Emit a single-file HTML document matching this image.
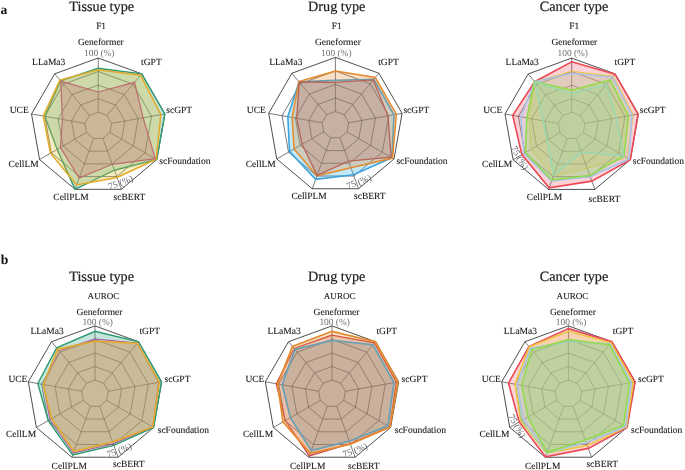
<!DOCTYPE html>
<html><head><meta charset="utf-8"><title>Radar charts</title>
<style>html,body{margin:0;padding:0;background:#fff}body{width:685px;height:470px;overflow:hidden}</style></head>
<body>
<svg width="685" height="470" viewBox="0 0 685 470" style="display:block;font-family:'Liberation Serif','Times New Roman',serif;text-rendering:geometricPrecision">
<rect width="685" height="470" fill="#fff"/>
<g>
<polygon points="98.20,112.16 106.90,115.33 111.53,123.35 109.93,132.47 102.83,138.42 93.57,138.42 86.47,132.47 84.87,123.35 89.50,115.33" fill="none" stroke="#222" stroke-width="0.60"/>
<polygon points="98.20,98.62 115.61,104.96 124.87,121.00 121.65,139.24 107.46,151.15 88.94,151.15 74.75,139.24 71.53,121.00 80.79,104.96" fill="none" stroke="#222" stroke-width="0.60"/>
<polygon points="98.20,85.08 124.31,94.58 138.20,118.65 133.38,146.01 112.09,163.87 84.31,163.87 63.02,146.01 58.20,118.65 72.09,94.58" fill="none" stroke="#222" stroke-width="0.60"/>
<polygon points="98.20,71.54 133.01,84.21 151.54,116.30 145.10,152.78 116.72,176.59 79.68,176.59 51.30,152.78 44.86,116.30 63.39,84.21" fill="none" stroke="#222" stroke-width="0.60"/>
<polygon points="98.20,58.00 141.72,73.84 164.87,113.94 156.83,159.55 121.35,189.32 75.05,189.32 39.57,159.55 31.53,113.94 54.68,73.84" fill="none" stroke="#222" stroke-width="0.80"/>
<line x1="98.20" y1="112.16" x2="98.20" y2="58.00" stroke="#222" stroke-width="0.6"/>
<line x1="106.90" y1="115.33" x2="141.72" y2="73.84" stroke="#222" stroke-width="0.6"/>
<line x1="111.53" y1="123.35" x2="164.87" y2="113.94" stroke="#222" stroke-width="0.6"/>
<line x1="109.93" y1="132.47" x2="156.83" y2="159.55" stroke="#222" stroke-width="0.6"/>
<line x1="102.83" y1="138.42" x2="121.35" y2="189.32" stroke="#222" stroke-width="0.6"/>
<line x1="93.57" y1="138.42" x2="75.05" y2="189.32" stroke="#222" stroke-width="0.6"/>
<line x1="86.47" y1="132.47" x2="39.57" y2="159.55" stroke="#222" stroke-width="0.6"/>
<line x1="84.87" y1="123.35" x2="31.53" y2="113.94" stroke="#222" stroke-width="0.6"/>
<line x1="89.50" y1="115.33" x2="54.68" y2="73.84" stroke="#222" stroke-width="0.6"/>
<polygon points="98.20,68.29 141.72,73.84 164.87,113.94 156.83,159.55 114.41,170.23 75.05,189.32 57.16,149.40 44.86,116.30 60.51,80.79" fill="#38a890" fill-opacity="0.30" stroke="none"/>
<polygon points="98.20,68.29 141.72,73.84 164.87,113.94 156.83,159.55 114.41,170.23 75.05,189.32 57.16,149.40 44.86,116.30 60.51,80.79" fill="none" stroke="#2f9a72" stroke-width="1.40" stroke-linejoin="miter"/>
<polygon points="98.20,69.85 140.54,75.24 160.87,114.65 156.24,159.21 117.07,177.55 76.62,184.99 50.48,153.25 43.20,116.00 59.91,80.06" fill="#e6bc30" fill-opacity="0.30" stroke="none"/>
<polygon points="98.20,69.85 140.54,75.24 160.87,114.65 156.24,159.21 117.07,177.55 76.62,184.99 50.48,153.25 43.20,116.00 59.91,80.06" fill="none" stroke="#e4aa28" stroke-width="1.50" stroke-linejoin="miter"/>
<polygon points="98.20,91.99 134.58,82.34 143.07,117.79 155.36,158.70 112.25,164.32 79.17,177.99 60.44,147.50 62.40,119.39 60.78,81.10" fill="#bf6b70" fill-opacity="0.30" stroke="none"/>
<polygon points="98.20,91.99 134.58,82.34 143.07,117.79 155.36,158.70 112.25,164.32 79.17,177.99 60.44,147.50 62.40,119.39 60.78,81.10" fill="none" stroke="#bf6b70" stroke-width="1.20" stroke-linejoin="miter"/>
<text x="101.7" y="10.7" font-size="14.25" text-anchor="middle" fill="#222" stroke="#222" stroke-width="0.2">Tissue type</text>
<text x="101.1" y="29.1" font-size="9.4" text-anchor="middle" fill="#222" stroke="#222" stroke-width="0.12">F1</text>
<text x="77.9" y="45.3" font-size="9.5" fill="#161616" stroke="#161616" stroke-width="0.1">Geneformer</text>
<text x="141.1" y="64.5" font-size="9.5" fill="#161616" stroke="#161616" stroke-width="0.1">tGPT</text>
<text x="166.3" y="112.6" font-size="9.5" fill="#161616" stroke="#161616" stroke-width="0.1">scGPT</text>
<text x="159.3" y="164.0" font-size="9.5" fill="#161616" stroke="#161616" stroke-width="0.1">scFoundation</text>
<text x="113.6" y="199.5" font-size="9.5" fill="#161616" stroke="#161616" stroke-width="0.1">scBERT</text>
<text x="53.3" y="199.5" font-size="9.5" fill="#161616" stroke="#161616" stroke-width="0.1">CellPLM</text>
<text x="8.6" y="167.0" font-size="9.5" fill="#161616" stroke="#161616" stroke-width="0.1">CellLM</text>
<text x="9.7" y="112.6" font-size="9.5" fill="#161616" stroke="#161616" stroke-width="0.1">UCE</text>
<text x="32.1" y="64.5" font-size="9.5" fill="#161616" stroke="#161616" stroke-width="0.1">LLaMa3</text>
<text x="84.0" y="55.8" font-size="9.4" fill="#6e7076">100 (%)</text>
<text transform="translate(118.9,182.6) rotate(-20)" x="1.6" y="3.5" font-size="9.4" text-anchor="middle" fill="#5c5e64">75 (%)</text>
</g>
<g>
<polygon points="335.40,111.56 344.10,114.73 348.73,122.75 347.13,131.87 340.03,137.82 330.77,137.82 323.67,131.87 322.07,122.75 326.70,114.73" fill="none" stroke="#222" stroke-width="0.60"/>
<polygon points="335.40,98.02 352.81,104.36 362.07,120.40 358.85,138.64 344.66,150.55 326.14,150.55 311.95,138.64 308.73,120.40 317.99,104.36" fill="none" stroke="#222" stroke-width="0.60"/>
<polygon points="335.40,84.48 361.51,93.98 375.40,118.05 370.58,145.41 349.29,163.27 321.51,163.27 300.22,145.41 295.40,118.05 309.29,93.98" fill="none" stroke="#222" stroke-width="0.60"/>
<polygon points="335.40,70.94 370.21,83.61 388.74,115.70 382.30,152.18 353.92,175.99 316.88,175.99 288.50,152.18 282.06,115.70 300.59,83.61" fill="none" stroke="#222" stroke-width="0.60"/>
<polygon points="335.40,57.40 378.92,73.24 402.07,113.34 394.03,158.95 358.55,188.72 312.25,188.72 276.77,158.95 268.73,113.34 291.88,73.24" fill="none" stroke="#222" stroke-width="0.80"/>
<line x1="335.40" y1="111.56" x2="335.40" y2="57.40" stroke="#222" stroke-width="0.6"/>
<line x1="344.10" y1="114.73" x2="378.92" y2="73.24" stroke="#222" stroke-width="0.6"/>
<line x1="348.73" y1="122.75" x2="402.07" y2="113.34" stroke="#222" stroke-width="0.6"/>
<line x1="347.13" y1="131.87" x2="394.03" y2="158.95" stroke="#222" stroke-width="0.6"/>
<line x1="340.03" y1="137.82" x2="358.55" y2="188.72" stroke="#222" stroke-width="0.6"/>
<line x1="330.77" y1="137.82" x2="312.25" y2="188.72" stroke="#222" stroke-width="0.6"/>
<line x1="323.67" y1="131.87" x2="276.77" y2="158.95" stroke="#222" stroke-width="0.6"/>
<line x1="322.07" y1="122.75" x2="268.73" y2="113.34" stroke="#222" stroke-width="0.6"/>
<line x1="326.70" y1="114.73" x2="291.88" y2="73.24" stroke="#222" stroke-width="0.6"/>
<polygon points="335.40,80.42 373.87,79.25 394.00,114.77 391.98,157.77 353.46,174.72 315.67,179.30 289.55,151.57 287.80,116.71 299.11,81.85" fill="#35b4e8" fill-opacity="0.30" stroke="none"/>
<polygon points="335.40,80.42 373.87,79.25 394.00,114.77 391.98,157.77 353.46,174.72 315.67,179.30 289.55,151.57 287.80,116.71 299.11,81.85" fill="none" stroke="#3fa4dc" stroke-width="1.60" stroke-linejoin="miter"/>
<polygon points="335.40,70.94 375.30,77.54 396.40,114.34 392.56,158.10 350.91,167.72 316.88,175.99 294.01,149.00 292.13,117.47 298.85,81.54" fill="#e58a2c" fill-opacity="0.28" stroke="none"/>
<polygon points="335.40,70.94 375.30,77.54 396.40,114.34 392.56,158.10 350.91,167.72 316.88,175.99 294.01,149.00 292.13,117.47 298.85,81.54" fill="none" stroke="#e58a2c" stroke-width="1.50" stroke-linejoin="miter"/>
<polygon points="335.40,82.45 373.30,79.93 387.94,115.84 391.10,157.26 348.48,161.04 317.11,175.36 302.04,144.36 296.73,118.28 299.19,81.95" fill="#af5a50" fill-opacity="0.25" stroke="none"/>
<polygon points="335.40,82.45 373.30,79.93 387.94,115.84 391.10,157.26 348.48,161.04 317.11,175.36 302.04,144.36 296.73,118.28 299.19,81.95" fill="none" stroke="#b86458" stroke-width="1.35" stroke-linejoin="miter"/>
<text x="336.7" y="10.7" font-size="14.25" text-anchor="middle" fill="#222" stroke="#222" stroke-width="0.2">Drug type</text>
<text x="336.7" y="29.1" font-size="9.4" text-anchor="middle" fill="#222" stroke="#222" stroke-width="0.12">F1</text>
<text x="315.0" y="45.3" font-size="9.5" fill="#161616" stroke="#161616" stroke-width="0.1">Geneformer</text>
<text x="378.2" y="64.5" font-size="9.5" fill="#161616" stroke="#161616" stroke-width="0.1">tGPT</text>
<text x="403.4" y="112.6" font-size="9.5" fill="#161616" stroke="#161616" stroke-width="0.1">scGPT</text>
<text x="396.4" y="164.0" font-size="9.5" fill="#161616" stroke="#161616" stroke-width="0.1">scFoundation</text>
<text x="354.0" y="199.4" font-size="9.5" fill="#161616" stroke="#161616" stroke-width="0.1">scBERT</text>
<text x="291.4" y="199.4" font-size="9.5" fill="#161616" stroke="#161616" stroke-width="0.1">CellPLM</text>
<text x="245.7" y="167.0" font-size="9.5" fill="#161616" stroke="#161616" stroke-width="0.1">CellLM</text>
<text x="246.8" y="112.6" font-size="9.5" fill="#161616" stroke="#161616" stroke-width="0.1">UCE</text>
<text x="269.2" y="64.5" font-size="9.5" fill="#161616" stroke="#161616" stroke-width="0.1">LLaMa3</text>
<text x="321.1" y="55.8" font-size="9.4" fill="#6e7076">100 (%)</text>
<text transform="translate(357.3,182.0) rotate(-20)" x="1.6" y="3.5" font-size="9.4" text-anchor="middle" fill="#5c5e64">75 (%)</text>
</g>
<g>
<polygon points="571.70,112.26 580.40,115.43 585.03,123.45 583.43,132.57 576.33,138.52 567.07,138.52 559.97,132.57 558.37,123.45 563.00,115.43" fill="none" stroke="#222" stroke-width="0.60"/>
<polygon points="571.70,98.72 589.11,105.06 598.37,121.10 595.15,139.34 580.96,151.25 562.44,151.25 548.25,139.34 545.03,121.10 554.29,105.06" fill="none" stroke="#222" stroke-width="0.60"/>
<polygon points="571.70,85.18 597.81,94.68 611.70,118.75 606.88,146.11 585.59,163.97 557.81,163.97 536.52,146.11 531.70,118.75 545.59,94.68" fill="none" stroke="#222" stroke-width="0.60"/>
<polygon points="571.70,71.64 606.51,84.31 625.04,116.40 618.60,152.88 590.22,176.69 553.18,176.69 524.80,152.88 518.36,116.40 536.89,84.31" fill="none" stroke="#222" stroke-width="0.60"/>
<polygon points="571.70,58.10 615.22,73.94 638.37,114.04 630.33,159.65 594.85,189.42 548.55,189.42 513.07,159.65 505.03,114.04 528.18,73.94" fill="none" stroke="#222" stroke-width="0.80"/>
<line x1="571.70" y1="112.26" x2="571.70" y2="58.10" stroke="#222" stroke-width="0.6"/>
<line x1="580.40" y1="115.43" x2="615.22" y2="73.94" stroke="#222" stroke-width="0.6"/>
<line x1="585.03" y1="123.45" x2="638.37" y2="114.04" stroke="#222" stroke-width="0.6"/>
<line x1="583.43" y1="132.57" x2="630.33" y2="159.65" stroke="#222" stroke-width="0.6"/>
<line x1="576.33" y1="138.52" x2="594.85" y2="189.42" stroke="#222" stroke-width="0.6"/>
<line x1="567.07" y1="138.52" x2="548.55" y2="189.42" stroke="#222" stroke-width="0.6"/>
<line x1="559.97" y1="132.57" x2="513.07" y2="159.65" stroke="#222" stroke-width="0.6"/>
<line x1="558.37" y1="123.45" x2="505.03" y2="114.04" stroke="#222" stroke-width="0.6"/>
<line x1="563.00" y1="115.43" x2="528.18" y2="73.94" stroke="#222" stroke-width="0.6"/>
<polygon points="571.70,61.82 615.00,74.20 638.04,114.10 630.33,159.65 591.84,181.15 549.12,187.83 521.86,154.57 512.70,115.40 534.71,81.72" fill="#ec4a56" fill-opacity="0.25" stroke="none"/>
<polygon points="571.70,61.82 615.00,74.20 638.04,114.10 630.33,159.65 591.84,181.15 549.12,187.83 521.86,154.57 512.70,115.40 534.71,81.72" fill="none" stroke="#ec4a56" stroke-width="1.60" stroke-linejoin="miter"/>
<polygon points="571.70,71.30 613.48,76.01 633.37,114.93 627.11,157.79 587.19,168.36 553.41,176.06 530.95,149.33 529.03,118.28 534.71,81.72" fill="#ecc43c" fill-opacity="0.25" stroke="none"/>
<polygon points="571.70,71.30 613.48,76.01 633.37,114.93 627.11,157.79 587.19,168.36 553.41,176.06 530.95,149.33 529.03,118.28 534.71,81.72" fill="none" stroke="#ecc43c" stroke-width="0.90" stroke-linejoin="miter"/>
<polygon points="571.70,73.33 612.52,77.15 631.97,115.17 629.16,158.97 590.22,176.69 551.60,181.02 523.92,153.39 520.83,116.83 534.71,81.72" fill="#a8c2e6" fill-opacity="0.25" stroke="none"/>
<polygon points="571.70,73.33 612.52,77.15 631.97,115.17 629.16,158.97 590.22,176.69 551.60,181.02 523.92,153.39 520.83,116.83 534.71,81.72" fill="none" stroke="#a8c2e6" stroke-width="1.50" stroke-linejoin="miter"/>
<polygon points="571.70,90.26 610.21,79.90 628.37,115.81 623.88,155.93 589.76,175.42 551.97,180.00 525.38,152.54 526.83,117.89 534.49,81.46" fill="#92dc4c" fill-opacity="0.30" stroke="none"/>
<polygon points="571.70,90.26 610.21,79.90 628.37,115.81 623.88,155.93 589.76,175.42 551.97,180.00 525.38,152.54 526.83,117.89 534.49,81.46" fill="none" stroke="#92dc4c" stroke-width="1.60" stroke-linejoin="miter"/>
<polygon points="571.70,93.51 606.51,84.31 616.37,117.92 623.88,155.93 581.31,152.20 553.73,175.17 547.08,140.02 543.03,120.74 534.71,81.72" fill="#94d8b4" fill-opacity="0.20" stroke="none"/>
<polygon points="571.70,93.51 606.51,84.31 616.37,117.92 623.88,155.93 581.31,152.20 553.73,175.17 547.08,140.02 543.03,120.74 534.71,81.72" fill="none" stroke="#94d8b4" stroke-width="1.30" stroke-linejoin="miter"/>
<text x="574.0" y="10.7" font-size="14.25" text-anchor="middle" fill="#222" stroke="#222" stroke-width="0.2">Cancer type</text>
<text x="574.2" y="29.1" font-size="9.4" text-anchor="middle" fill="#222" stroke="#222" stroke-width="0.12">F1</text>
<text x="551.4" y="45.3" font-size="9.5" fill="#161616" stroke="#161616" stroke-width="0.1">Geneformer</text>
<text x="614.6" y="64.5" font-size="9.5" fill="#161616" stroke="#161616" stroke-width="0.1">tGPT</text>
<text x="639.8" y="112.6" font-size="9.5" fill="#161616" stroke="#161616" stroke-width="0.1">scGPT</text>
<text x="632.8" y="164.0" font-size="9.5" fill="#161616" stroke="#161616" stroke-width="0.1">scFoundation</text>
<text x="588.6" y="201.6" font-size="9.5" fill="#161616" stroke="#161616" stroke-width="0.1">scBERT</text>
<text x="526.8" y="199.5" font-size="9.5" fill="#161616" stroke="#161616" stroke-width="0.1">CellPLM</text>
<text x="482.1" y="167.0" font-size="9.5" fill="#161616" stroke="#161616" stroke-width="0.1">CellLM</text>
<text x="483.2" y="112.6" font-size="9.5" fill="#161616" stroke="#161616" stroke-width="0.1">UCE</text>
<text x="505.6" y="64.5" font-size="9.5" fill="#161616" stroke="#161616" stroke-width="0.1">LLaMa3</text>
<text x="557.5" y="55.8" font-size="9.4" fill="#6e7076">100 (%)</text>
<text transform="translate(519.3,156.1) rotate(60)" x="1.6" y="3.5" font-size="9.4" text-anchor="middle" fill="#5c5e64">75 (%)</text>
</g>
<g>
<polygon points="95.00,380.06 103.70,383.23 108.33,391.25 106.73,400.37 99.63,406.32 90.37,406.32 83.27,400.37 81.67,391.25 86.30,383.23" fill="none" stroke="#222" stroke-width="0.60"/>
<polygon points="95.00,366.52 112.41,372.86 121.67,388.90 118.45,407.14 104.26,419.05 85.74,419.05 71.55,407.14 68.33,388.90 77.59,372.86" fill="none" stroke="#222" stroke-width="0.60"/>
<polygon points="95.00,352.98 121.11,362.48 135.00,386.55 130.18,413.91 108.89,431.77 81.11,431.77 59.82,413.91 55.00,386.55 68.89,362.48" fill="none" stroke="#222" stroke-width="0.60"/>
<polygon points="95.00,339.44 129.81,352.11 148.34,384.20 141.90,420.68 113.52,444.49 76.48,444.49 48.10,420.68 41.66,384.20 60.19,352.11" fill="none" stroke="#222" stroke-width="0.60"/>
<polygon points="95.00,325.90 138.52,341.74 161.67,381.84 153.63,427.45 118.15,457.22 71.85,457.22 36.37,427.45 28.33,381.84 51.48,341.74" fill="none" stroke="#222" stroke-width="0.80"/>
<line x1="95.00" y1="380.06" x2="95.00" y2="325.90" stroke="#222" stroke-width="0.6"/>
<line x1="103.70" y1="383.23" x2="138.52" y2="341.74" stroke="#222" stroke-width="0.6"/>
<line x1="108.33" y1="391.25" x2="161.67" y2="381.84" stroke="#222" stroke-width="0.6"/>
<line x1="106.73" y1="400.37" x2="153.63" y2="427.45" stroke="#222" stroke-width="0.6"/>
<line x1="99.63" y1="406.32" x2="118.15" y2="457.22" stroke="#222" stroke-width="0.6"/>
<line x1="90.37" y1="406.32" x2="71.85" y2="457.22" stroke="#222" stroke-width="0.6"/>
<line x1="83.27" y1="400.37" x2="36.37" y2="427.45" stroke="#222" stroke-width="0.6"/>
<line x1="81.67" y1="391.25" x2="28.33" y2="381.84" stroke="#222" stroke-width="0.6"/>
<line x1="86.30" y1="383.23" x2="51.48" y2="341.74" stroke="#222" stroke-width="0.6"/>
<polygon points="95.00,331.25 138.52,341.74 161.47,381.88 153.63,427.45 113.87,445.45 72.66,454.99 48.27,420.58 37.80,383.51 56.62,347.86" fill="#38a890" fill-opacity="0.30" stroke="none"/>
<polygon points="95.00,331.25 138.52,341.74 161.47,381.88 153.63,427.45 113.87,445.45 72.66,454.99 48.27,420.58 37.80,383.51 56.62,347.86" fill="none" stroke="#2f9a72" stroke-width="1.40" stroke-linejoin="miter"/>
<polygon points="95.00,338.90 137.43,343.04 158.67,382.37 152.75,426.94 113.29,443.86 73.37,453.02 49.85,419.66 43.53,384.52 59.06,350.76" fill="#b0569a" fill-opacity="0.30" stroke="none"/>
<polygon points="95.00,338.90 137.43,343.04 158.67,382.37 152.75,426.94 113.29,443.86 73.37,453.02 49.85,419.66 43.53,384.52 59.06,350.76" fill="none" stroke="#b0569a" stroke-width="1.00" stroke-linejoin="miter"/>
<polygon points="95.00,341.27 137.34,343.14 159.40,382.24 152.75,426.94 112.60,441.95 74.00,451.30 51.56,418.68 43.26,384.48 57.58,349.00" fill="#e6bc30" fill-opacity="0.30" stroke="none"/>
<polygon points="95.00,341.27 137.34,343.14 159.40,382.24 152.75,426.94 112.60,441.95 74.00,451.30 51.56,418.68 43.26,384.48 57.58,349.00" fill="none" stroke="#e4aa28" stroke-width="1.50" stroke-linejoin="miter"/>
<text x="101.6" y="281.4" font-size="14.25" text-anchor="middle" fill="#222" stroke="#222" stroke-width="0.2">Tissue type</text>
<text x="103.5" y="299.0" font-size="9.1" text-anchor="middle" fill="#222" stroke="#222" stroke-width="0.12">AUROC</text>
<text x="76.6" y="315.0" font-size="9.5" fill="#161616" stroke="#161616" stroke-width="0.1">Geneformer</text>
<text x="139.4" y="334.0" font-size="9.5" fill="#161616" stroke="#161616" stroke-width="0.1">tGPT</text>
<text x="164.6" y="382.0" font-size="9.5" fill="#161616" stroke="#161616" stroke-width="0.1">scGPT</text>
<text x="157.7" y="433.0" font-size="9.5" fill="#161616" stroke="#161616" stroke-width="0.1">scFoundation</text>
<text x="113.0" y="467.0" font-size="9.5" fill="#161616" stroke="#161616" stroke-width="0.1">scBERT</text>
<text x="51.6" y="469.0" font-size="9.5" fill="#161616" stroke="#161616" stroke-width="0.1">CellPLM</text>
<text x="6.0" y="437.0" font-size="9.5" fill="#161616" stroke="#161616" stroke-width="0.1">CellLM</text>
<text x="8.4" y="382.0" font-size="9.5" fill="#161616" stroke="#161616" stroke-width="0.1">UCE</text>
<text x="30.4" y="334.0" font-size="9.5" fill="#161616" stroke="#161616" stroke-width="0.1">LLaMa3</text>
<text x="82.4" y="325.0" font-size="9.4" fill="#6e7076">100 (%)</text>
<text transform="translate(117.6,450.4) rotate(-20)" x="1.6" y="3.5" font-size="9.4" text-anchor="middle" fill="#5c5e64">75 (%)</text>
</g>
<g>
<polygon points="332.00,380.06 340.70,383.23 345.33,391.25 343.73,400.37 336.63,406.32 327.37,406.32 320.27,400.37 318.67,391.25 323.30,383.23" fill="none" stroke="#222" stroke-width="0.60"/>
<polygon points="332.00,366.52 349.41,372.86 358.67,388.90 355.45,407.14 341.26,419.05 322.74,419.05 308.55,407.14 305.33,388.90 314.59,372.86" fill="none" stroke="#222" stroke-width="0.60"/>
<polygon points="332.00,352.98 358.11,362.48 372.00,386.55 367.18,413.91 345.89,431.77 318.11,431.77 296.82,413.91 292.00,386.55 305.89,362.48" fill="none" stroke="#222" stroke-width="0.60"/>
<polygon points="332.00,339.44 366.81,352.11 385.34,384.20 378.90,420.68 350.52,444.49 313.48,444.49 285.10,420.68 278.66,384.20 297.19,352.11" fill="none" stroke="#222" stroke-width="0.60"/>
<polygon points="332.00,325.90 375.52,341.74 398.67,381.84 390.63,427.45 355.15,457.22 308.85,457.22 273.37,427.45 265.33,381.84 288.48,341.74" fill="none" stroke="#222" stroke-width="0.80"/>
<line x1="332.00" y1="380.06" x2="332.00" y2="325.90" stroke="#222" stroke-width="0.6"/>
<line x1="340.70" y1="383.23" x2="375.52" y2="341.74" stroke="#222" stroke-width="0.6"/>
<line x1="345.33" y1="391.25" x2="398.67" y2="381.84" stroke="#222" stroke-width="0.6"/>
<line x1="343.73" y1="400.37" x2="390.63" y2="427.45" stroke="#222" stroke-width="0.6"/>
<line x1="336.63" y1="406.32" x2="355.15" y2="457.22" stroke="#222" stroke-width="0.6"/>
<line x1="327.37" y1="406.32" x2="308.85" y2="457.22" stroke="#222" stroke-width="0.6"/>
<line x1="320.27" y1="400.37" x2="273.37" y2="427.45" stroke="#222" stroke-width="0.6"/>
<line x1="318.67" y1="391.25" x2="265.33" y2="381.84" stroke="#222" stroke-width="0.6"/>
<line x1="323.30" y1="383.23" x2="288.48" y2="341.74" stroke="#222" stroke-width="0.6"/>
<polygon points="332.00,335.04 374.52,342.93 396.34,382.26 389.75,426.94 350.18,443.54 309.31,455.94 285.33,420.54 276.26,383.77 294.14,348.48" fill="#cf4c48" fill-opacity="0.25" stroke="none"/>
<polygon points="332.00,335.04 374.52,342.93 396.34,382.26 389.75,426.94 350.18,443.54 309.31,455.94 285.33,420.54 276.26,383.77 294.14,348.48" fill="none" stroke="#cf4c48" stroke-width="1.30" stroke-linejoin="miter"/>
<polygon points="332.00,331.32 375.52,341.74 397.94,381.97 389.93,427.04 350.45,444.30 310.23,453.40 282.99,421.90 277.73,384.03 292.44,346.46" fill="#e58a2c" fill-opacity="0.25" stroke="none"/>
<polygon points="332.00,331.32 375.52,341.74 397.94,381.97 389.93,427.04 350.45,444.30 310.23,453.40 282.99,421.90 277.73,384.03 292.44,346.46" fill="none" stroke="#e58a2c" stroke-width="1.70" stroke-linejoin="miter"/>
<polygon points="332.00,340.39 372.99,344.75 393.94,382.68 387.93,425.89 349.32,441.19 311.28,450.54 290.31,417.67 282.13,384.81 294.88,349.36" fill="#7c918d" fill-opacity="0.33" stroke="none"/>
<polygon points="332.00,340.39 372.99,344.75 393.94,382.68 387.93,425.89 349.32,441.19 311.28,450.54 290.31,417.67 282.13,384.81 294.88,349.36" fill="none" stroke="#68a0b4" stroke-width="1.70" stroke-linejoin="miter"/>
<text x="336.7" y="281.4" font-size="14.25" text-anchor="middle" fill="#222" stroke="#222" stroke-width="0.2">Drug type</text>
<text x="339.7" y="299.0" font-size="9.1" text-anchor="middle" fill="#222" stroke="#222" stroke-width="0.12">AUROC</text>
<text x="313.6" y="315.0" font-size="9.5" fill="#161616" stroke="#161616" stroke-width="0.1">Geneformer</text>
<text x="376.4" y="334.0" font-size="9.5" fill="#161616" stroke="#161616" stroke-width="0.1">tGPT</text>
<text x="401.6" y="382.0" font-size="9.5" fill="#161616" stroke="#161616" stroke-width="0.1">scGPT</text>
<text x="394.7" y="433.0" font-size="9.5" fill="#161616" stroke="#161616" stroke-width="0.1">scFoundation</text>
<text x="348.0" y="469.0" font-size="9.5" fill="#161616" stroke="#161616" stroke-width="0.1">scBERT</text>
<text x="290.0" y="469.4" font-size="9.5" fill="#161616" stroke="#161616" stroke-width="0.1">CellPLM</text>
<text x="243.0" y="437.0" font-size="9.5" fill="#161616" stroke="#161616" stroke-width="0.1">CellLM</text>
<text x="245.4" y="382.0" font-size="9.5" fill="#161616" stroke="#161616" stroke-width="0.1">UCE</text>
<text x="267.4" y="334.0" font-size="9.5" fill="#161616" stroke="#161616" stroke-width="0.1">LLaMa3</text>
<text x="319.4" y="325.0" font-size="9.4" fill="#6e7076">100 (%)</text>
<text transform="translate(353.4,450.4) rotate(-20)" x="1.6" y="3.5" font-size="9.4" text-anchor="middle" fill="#5c5e64">75 (%)</text>
</g>
<g>
<polygon points="568.40,380.06 577.10,383.23 581.73,391.25 580.13,400.37 573.03,406.32 563.77,406.32 556.67,400.37 555.07,391.25 559.70,383.23" fill="none" stroke="#222" stroke-width="0.60"/>
<polygon points="568.40,366.52 585.81,372.86 595.07,388.90 591.85,407.14 577.66,419.05 559.14,419.05 544.95,407.14 541.73,388.90 550.99,372.86" fill="none" stroke="#222" stroke-width="0.60"/>
<polygon points="568.40,352.98 594.51,362.48 608.40,386.55 603.58,413.91 582.29,431.77 554.51,431.77 533.22,413.91 528.40,386.55 542.29,362.48" fill="none" stroke="#222" stroke-width="0.60"/>
<polygon points="568.40,339.44 603.21,352.11 621.74,384.20 615.30,420.68 586.92,444.49 549.88,444.49 521.50,420.68 515.06,384.20 533.59,352.11" fill="none" stroke="#222" stroke-width="0.60"/>
<polygon points="568.40,325.90 611.92,341.74 635.07,381.84 627.03,427.45 591.55,457.22 545.25,457.22 509.77,427.45 501.73,381.84 524.88,341.74" fill="none" stroke="#222" stroke-width="0.80"/>
<line x1="568.40" y1="380.06" x2="568.40" y2="325.90" stroke="#222" stroke-width="0.6"/>
<line x1="577.10" y1="383.23" x2="611.92" y2="341.74" stroke="#222" stroke-width="0.6"/>
<line x1="581.73" y1="391.25" x2="635.07" y2="381.84" stroke="#222" stroke-width="0.6"/>
<line x1="580.13" y1="400.37" x2="627.03" y2="427.45" stroke="#222" stroke-width="0.6"/>
<line x1="573.03" y1="406.32" x2="591.55" y2="457.22" stroke="#222" stroke-width="0.6"/>
<line x1="563.77" y1="406.32" x2="545.25" y2="457.22" stroke="#222" stroke-width="0.6"/>
<line x1="556.67" y1="400.37" x2="509.77" y2="427.45" stroke="#222" stroke-width="0.6"/>
<line x1="555.07" y1="391.25" x2="501.73" y2="381.84" stroke="#222" stroke-width="0.6"/>
<line x1="559.70" y1="383.23" x2="524.88" y2="341.74" stroke="#222" stroke-width="0.6"/>
<polygon points="568.40,328.61 611.92,341.74 635.07,381.84 627.03,427.45 588.34,448.37 545.41,456.77 519.21,422.00 508.53,383.04 528.93,346.56" fill="#ec4a56" fill-opacity="0.22" stroke="none"/>
<polygon points="568.40,328.61 611.92,341.74 635.07,381.84 627.03,427.45 588.34,448.37 545.41,456.77 519.21,422.00 508.53,383.04 528.93,346.56" fill="none" stroke="#ec4a56" stroke-width="1.60" stroke-linejoin="miter"/>
<polygon points="568.40,331.32 611.05,342.78 633.34,382.15 626.44,427.11 587.34,445.64 546.75,453.08 520.73,421.12 515.06,384.20 529.23,346.92" fill="#ecc43c" fill-opacity="0.25" stroke="none"/>
<polygon points="568.40,331.32 611.05,342.78 633.34,382.15 626.44,427.11 587.34,445.64 546.75,453.08 520.73,421.12 515.06,384.20 529.23,346.92" fill="none" stroke="#ecc43c" stroke-width="1.50" stroke-linejoin="miter"/>
<polygon points="568.40,341.81 609.96,344.07 631.07,382.55 625.56,426.60 586.23,442.59 546.52,453.72 521.50,420.68 517.40,384.61 530.63,348.58" fill="#94d8b4" fill-opacity="0.18" stroke="none"/>
<polygon points="568.40,341.81 609.96,344.07 631.07,382.55 625.56,426.60 586.23,442.59 546.52,453.72 521.50,420.68 517.40,384.61 530.63,348.58" fill="none" stroke="#94d8b4" stroke-width="0.90" stroke-linejoin="miter"/>
<polygon points="568.40,341.27 610.18,343.81 631.34,382.50 625.86,426.77 586.32,442.84 547.21,451.81 523.37,419.60 517.00,384.54 530.41,348.33" fill="#a8c2e6" fill-opacity="0.32" stroke="none"/>
<polygon points="568.40,341.27 610.18,343.81 631.34,382.50 625.86,426.77 586.32,442.84 547.21,451.81 523.37,419.60 517.00,384.54 530.41,348.33" fill="none" stroke="#a8c2e6" stroke-width="1.40" stroke-linejoin="miter"/>
<polygon points="568.40,339.44 609.48,344.64 629.34,382.86 623.51,425.42 585.30,440.04 547.05,452.26 527.95,416.96 521.73,385.37 531.67,349.83" fill="#92dc4c" fill-opacity="0.30" stroke="none"/>
<polygon points="568.40,339.44 609.48,344.64 629.34,382.86 623.51,425.42 585.30,440.04 547.05,452.26 527.95,416.96 521.73,385.37 531.67,349.83" fill="none" stroke="#92dc4c" stroke-width="1.50" stroke-linejoin="miter"/>
<text x="574.0" y="281.4" font-size="14.25" text-anchor="middle" fill="#222" stroke="#222" stroke-width="0.2">Cancer type</text>
<text x="572.5" y="299.0" font-size="9.1" text-anchor="middle" fill="#222" stroke="#222" stroke-width="0.12">AUROC</text>
<text x="550.0" y="315.0" font-size="9.5" fill="#161616" stroke="#161616" stroke-width="0.1">Geneformer</text>
<text x="612.8" y="334.0" font-size="9.5" fill="#161616" stroke="#161616" stroke-width="0.1">tGPT</text>
<text x="638.0" y="382.0" font-size="9.5" fill="#161616" stroke="#161616" stroke-width="0.1">scGPT</text>
<text x="631.1" y="433.0" font-size="9.5" fill="#161616" stroke="#161616" stroke-width="0.1">scFoundation</text>
<text x="586.4" y="467.0" font-size="9.5" fill="#161616" stroke="#161616" stroke-width="0.1">scBERT</text>
<text x="525.0" y="469.0" font-size="9.5" fill="#161616" stroke="#161616" stroke-width="0.1">CellPLM</text>
<text x="479.4" y="437.0" font-size="9.5" fill="#161616" stroke="#161616" stroke-width="0.1">CellLM</text>
<text x="481.8" y="382.0" font-size="9.5" fill="#161616" stroke="#161616" stroke-width="0.1">UCE</text>
<text x="503.8" y="334.0" font-size="9.5" fill="#161616" stroke="#161616" stroke-width="0.1">LLaMa3</text>
<text x="555.8" y="325.0" font-size="9.4" fill="#6e7076">100 (%)</text>
<text transform="translate(516.6,424.2) rotate(60)" x="1.6" y="3.5" font-size="9.4" text-anchor="middle" fill="#5c5e64">75 (%)</text>
</g>
<text x="0.6" y="13.6" font-size="13.6" font-weight="bold" fill="#111">a</text>
<text x="0.8" y="263.6" font-size="13.6" font-weight="bold" fill="#111">b</text>
</svg>
</body></html>
